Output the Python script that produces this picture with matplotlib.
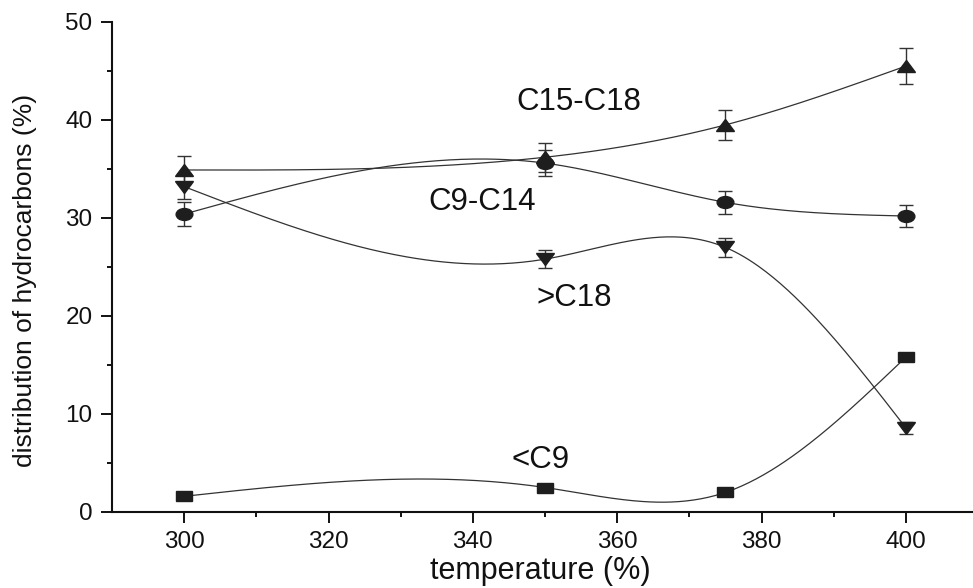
import numpy as np
import matplotlib
matplotlib.use('Agg')
import matplotlib.pyplot as plt
from matplotlib.markers import MarkerStyle
from matplotlib.transforms import Affine2D

plt.rcParams['font.family'] = ['Liberation Sans', 'DejaVu Sans']

temperature = [300, 350, 375, 400]

c15_c18 = [34.9, 36.2, 39.5, 45.5]
c15_c18_err = [1.4, 1.5, 1.5, 1.8]

c9_c14 = [30.4, 35.6, 31.6, 30.2]
c9_c14_err = [1.2, 1.3, 1.2, 1.1]

gt_c18 = [33.2, 25.8, 27.0, 8.6]
gt_c18_err = [1.3, 0.9, 1.0, 0.6]

lt_c9 = [1.6, 2.5, 2.0, 15.8]
lt_c9_err = [0, 0, 0, 0]

x_ticks = [300, 320, 340, 360, 380, 400]
y_ticks = [0, 10, 20, 30, 40, 50]

labels = ['C15-C18', 'C9-C14', '>C18', '<C9']
label_pos = [(354.7, 41.8), (341.3, 31.6), (354.0, 21.8), (349.4, 5.3)]


def natural_spline(x, y, n=300):
    # natural cubic spline, just for the smooth connecting line
    x = np.asarray(x, float)
    y = np.asarray(y, float)
    k = len(x)
    h = np.diff(x)
    A = np.zeros((k, k))
    b = np.zeros(k)
    A[0, 0] = 1
    A[-1, -1] = 1
    for i in range(1, k - 1):
        A[i, i - 1] = h[i - 1]
        A[i, i] = 2 * (h[i - 1] + h[i])
        A[i, i + 1] = h[i]
        b[i] = 3 * ((y[i + 1] - y[i]) / h[i] - (y[i] - y[i - 1]) / h[i - 1])
    c = np.linalg.solve(A, b)
    xs = np.linspace(x[0], x[-1], n)
    ys = np.empty_like(xs)
    for j, xv in enumerate(xs):
        i = min(np.searchsorted(x, xv, side='right') - 1, k - 2)
        dx = xv - x[i]
        bi = (y[i + 1] - y[i]) / h[i] - h[i] * (2 * c[i] + c[i + 1]) / 3
        di = (c[i + 1] - c[i]) / (3 * h[i])
        ys[j] = y[i] + bi * dx + c[i] * dx ** 2 + di * dx ** 3
    return xs, ys


def wide(m):
    return MarkerStyle(m, transform=Affine2D().scale(1.4, 1.0))


fig = plt.figure(figsize=(9.73, 5.88), dpi=100)
ax = fig.add_axes([112 / 973, 76 / 588, 866 / 973, 490 / 588])

dark = '#1e1e1e'
series = [
    (c15_c18, c15_c18_err, '^', 8.8),
    (c9_c14, c9_c14_err, 'o', 8.6),
    (gt_c18, gt_c18_err, 'v', 8.8),
    (lt_c9, lt_c9_err, 's', 7.8),
]

for vals, errs, mk, ms in series:
    xs, ys = natural_spline(temperature, vals)
    ax.plot(xs, ys, color='#333333', lw=0.9, zorder=2)
    ax.errorbar(temperature, vals, yerr=errs, fmt='none', ecolor='#333333',
                elinewidth=1.0, capsize=4.8, capthick=1.0, zorder=3)
    ax.plot(temperature, vals, linestyle='none', marker=wide(mk), ms=ms,
            color=dark, mec=dark, zorder=4)

for txt, (tx, ty) in zip(labels, label_pos):
    ax.text(tx, ty, txt, fontsize=22.5, ha='center', va='center', color='#111111')

ax.set_xlim(290, 410)
ax.set_ylim(0, 50)
ax.set_xticks(x_ticks)
ax.set_xticks([310, 330, 350, 370, 390], minor=True)
ax.set_yticks(y_ticks)
ax.set_yticks([5, 15, 25, 35, 45], minor=True)

for s in ['top', 'right']:
    ax.spines[s].set_visible(False)
for s in ['left', 'bottom']:
    ax.spines[s].set_linewidth(1.5)
    ax.spines[s].set_color('#111111')

ax.tick_params(which='major', direction='out', length=8, width=1.4,
               labelsize=17.5, colors='#111111', pad=6)
ax.tick_params(which='minor', direction='out', length=3.8, width=1.4,
               colors='#111111')

fig.text(540 / 973, 2 / 588, 'temperature (%)', fontsize=22,
         ha='center', va='bottom', color='#111111')
fig.text(25 / 973, 1 - 280 / 588, 'distribution of hydrocarbons (%)',
         fontsize=19, rotation=90, ha='center', va='center', color='#111111')

fig.savefig('out.png', dpi=100)
